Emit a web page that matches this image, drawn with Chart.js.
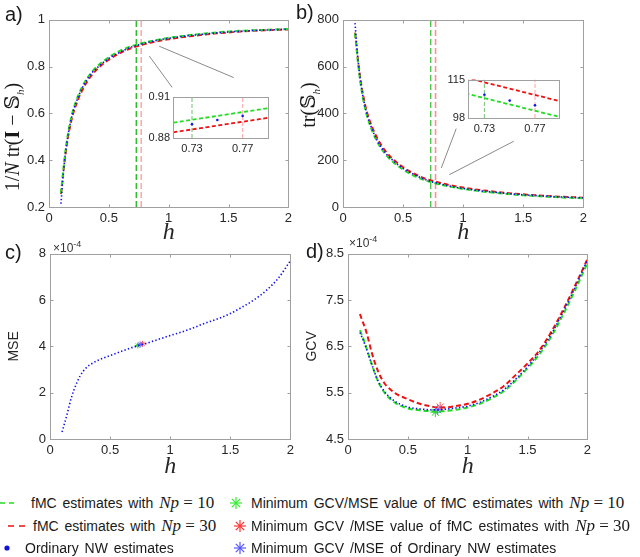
<!DOCTYPE html>
<html>
<head>
<meta charset="utf-8">
<script src="https://cdn.jsdelivr.net/npm/chart.js@4.4.1/dist/chart.umd.min.js"></script>
<style>
  body { margin: 0; background: #fff; width: 640px; height: 557px; overflow: hidden; position: relative; font-family: 'Liberation Sans', Arial, sans-serif; color: #1a1a1a; }
  canvas { position: absolute; }
  .lbl { position: absolute; font-size: 20px; line-height: 22px; }
  .ytitle { position: absolute; white-space: nowrap; font-family: 'Liberation Serif', 'DejaVu Serif', serif; font-size: 20px; transform: translate(-50%, -50%) rotate(-90deg); }
  .ytitle sub { font-size: 11px; }
  .exp { position: absolute; font-size: 12px; line-height: 14px; color: #333; }
  .exp sup { font-size: 9px; }
  .leg { position: absolute; font-size: 14px; line-height: 18px; white-space: nowrap; word-spacing: 2px; }
  .leg svg { position: absolute; }
  .m { font-family: 'Liberation Serif', serif; font-size: 17px; word-spacing: 0; margin-left: 6px; }
</style>
</head>
<body>
<canvas id="chart-a" width="295" height="239" style="left:1px;top:8px;width:295px;height:239px"></canvas>
<canvas id="chart-b" width="296" height="239" style="left:295px;top:8px;width:296px;height:239px"></canvas>
<canvas id="chart-c" width="296" height="239" style="left:2px;top:242px;width:296px;height:239px"></canvas>
<canvas id="chart-d" width="295" height="239" style="left:300px;top:242px;width:295px;height:239px"></canvas>
<canvas id="inset-a" width="129" height="81" style="left:143px;top:87px;width:129px;height:81px"></canvas>
<canvas id="inset-b" width="125" height="78" style="left:438px;top:70px;width:125px;height:78px"></canvas>

<div class="lbl" style="left:5px;top:3px">a)</div>
<div class="lbl" style="left:296px;top:1px">b)</div>
<div class="lbl" style="left:5px;top:241px">c)</div>
<div class="lbl" style="left:306px;top:240px">d)</div>

<div class="ytitle" style="left:13px;top:137px">1/<i>N</i> tr(<b>I</b> − 𝕊<sub><i>h</i></sub>)</div>
<div class="ytitle" style="left:309px;top:105px">tr(𝕊<sub><i>h</i></sub>)</div>

<div class="exp" style="left:53px;top:237px">×10<sup>-4</sup></div>
<div class="exp" style="left:349px;top:232px">×10<sup>-4</sup></div>

<div class="leg" style="left:0;top:494px;width:230px;height:18px">
  <svg width="14" height="18" style="left:0;top:0"><line x1="0" y1="9" x2="14" y2="9" stroke="#22dd22" stroke-width="1.6" stroke-dasharray="5 4"/></svg>
  <span style="position:absolute;left:31px">fMC estimates with<span class="m"><i>Np</i> = 10</span></span>
</div>
<div class="leg" style="left:0;top:517px;width:230px;height:18px">
  <svg width="18" height="18" style="left:8px;top:0"><line x1="0" y1="9" x2="18" y2="9" stroke="#ee1111" stroke-width="1.6" stroke-dasharray="6 5"/></svg>
  <span style="position:absolute;left:33px">fMC estimates with<span class="m"><i>Np</i> = 30</span></span>
</div>
<div class="leg" style="left:0;top:539px;width:230px;height:18px">
  <svg width="12" height="18" style="left:1px;top:0"><circle cx="6" cy="9" r="2.6" fill="#1111dd"/></svg>
  <span style="position:absolute;left:25px">Ordinary NW estimates</span>
</div>
<div class="leg" style="left:229px;top:494px;width:411px;height:18px">
  <svg width="14" height="18" style="left:0;top:0"><g stroke="#33ee33" stroke-width="1.2"><line x1="7" y1="3" x2="7" y2="15"/><line x1="1" y1="9" x2="13" y2="9"/><line x1="2.8" y1="4.8" x2="11.2" y2="13.2"/><line x1="2.8" y1="13.2" x2="11.2" y2="4.8"/></g></svg>
  <span style="position:absolute;left:22px">Minimum GCV/MSE value of fMC estimates with<span class="m"><i>Np</i> = 10</span></span>
</div>
<div class="leg" style="left:229px;top:517px;width:411px;height:18px">
  <svg width="14" height="18" style="left:4px;top:0"><g stroke="#ff3333" stroke-width="1.2"><line x1="7" y1="3" x2="7" y2="15"/><line x1="1" y1="9" x2="13" y2="9"/><line x1="2.8" y1="4.8" x2="11.2" y2="13.2"/><line x1="2.8" y1="13.2" x2="11.2" y2="4.8"/></g></svg>
  <span style="position:absolute;left:22px">Minimum GCV /MSE value of fMC estimates with<span class="m"><i>Np</i> = 30</span></span>
</div>
<div class="leg" style="left:229px;top:539px;width:411px;height:18px">
  <svg width="14" height="18" style="left:4px;top:0"><g stroke="#5555ff" stroke-width="1.2"><line x1="7" y1="3" x2="7" y2="15"/><line x1="1" y1="9" x2="13" y2="9"/><line x1="2.8" y1="4.8" x2="11.2" y2="13.2"/><line x1="2.8" y1="13.2" x2="11.2" y2="4.8"/></g></svg>
  <span style="position:absolute;left:22px">Minimum GCV /MSE of Ordinary NW estimates</span>
</div>

<script>
// bandwidth grid
const H = [0.1, 0.12, 0.14, 0.16, 0.18, 0.2, 0.25, 0.3, 0.35, 0.4, 0.5, 0.6, 0.7, 0.75, 0.8, 0.9, 1.0, 1.1, 1.2, 1.3, 1.4, 1.5, 1.6, 1.7, 1.8, 1.9, 2.0];

// a) 1/N tr(I - S_h)
const A_NP10 = [0.258, 0.36, 0.45, 0.518, 0.57, 0.612, 0.684, 0.735, 0.772, 0.80, 0.84, 0.869, 0.889, 0.896, 0.903, 0.914, 0.923, 0.93, 0.936, 0.941, 0.946, 0.95, 0.953, 0.955, 0.957, 0.959, 0.961];
const A_NP30 = [0.255, 0.35, 0.435, 0.502, 0.554, 0.596, 0.668, 0.72, 0.759, 0.788, 0.83, 0.86, 0.882, 0.889, 0.896, 0.908, 0.917, 0.925, 0.931, 0.937, 0.942, 0.946, 0.95, 0.953, 0.955, 0.957, 0.959];
const A_NW = [0.214, 0.345, 0.44, 0.51, 0.563, 0.605, 0.678, 0.73, 0.768, 0.794, 0.835, 0.863, 0.886, 0.893, 0.90, 0.912, 0.921, 0.928, 0.934, 0.939, 0.944, 0.948, 0.951, 0.954, 0.956, 0.958, 0.96];

// b) tr(S_h)
const B_NP10 = [742, 640, 550, 482, 430, 388, 316, 265, 228, 200, 160, 131, 111, 104, 97, 86, 77, 70, 64, 59, 54, 50, 47, 44, 41, 39, 37];
const B_NP30 = [745, 650, 565, 498, 446, 404, 332, 280, 241, 212, 170, 140, 118, 111, 104, 92, 83, 75, 69, 63, 58, 54, 50, 47, 44, 42, 40];
const B_NW = [786, 655, 560, 490, 437, 395, 322, 270, 232, 206, 165, 137, 114, 106, 100, 88, 79, 72, 66, 61, 56, 52, 49, 46, 43, 41, 39];

// c) MSE (x 1e-4)
const MSE_NW = [0.3, 0.66, 1.02, 1.45, 1.82, 2.13, 2.72, 3.07, 3.26, 3.4, 3.6, 3.8, 3.98, 4.06, 4.13, 4.3, 4.47, 4.63, 4.82, 5.02, 5.2, 5.42, 5.7, 6.02, 6.42, 6.95, 7.7];

// d) GCV (x 1e-4)
const G_NP10 = [6.85, 6.72, 6.58, 6.42, 6.26, 6.1, 5.75, 5.52, 5.37, 5.27, 5.16, 5.12, 5.1, 5.09, 5.1, 5.13, 5.18, 5.26, 5.38, 5.53, 5.76, 6.03, 6.33, 6.72, 7.2, 7.73, 8.3];
const G_NP30 = [7.2, 7.05, 6.92, 6.75, 6.55, 6.35, 5.97, 5.72, 5.58, 5.48, 5.36, 5.26, 5.2, 5.18, 5.18, 5.21, 5.26, 5.35, 5.48, 5.64, 5.88, 6.13, 6.42, 6.82, 7.3, 7.83, 8.38];
const G_NW = [6.8, 6.68, 6.55, 6.4, 6.25, 6.1, 5.76, 5.54, 5.4, 5.3, 5.19, 5.15, 5.13, 5.13, 5.14, 5.17, 5.21, 5.29, 5.41, 5.56, 5.79, 6.06, 6.38, 6.77, 7.26, 7.79, 8.37];

// minimum GCV/MSE bandwidths: [Np=10, Np=30, NW]
const MIN_H = [0.73, 0.77, 0.75];
const MIN_MSE = [4.04, 4.11, 4.08];
const MIN_GCV = [5.08, 5.19, 5.13];

// zoom insets
const INSET_H = [0.73, 0.75, 0.77];
const INSET_A_NW = [0.890, 0.893, 0.896];
const INSET_B_NW = [108.3, 105.7, 103.6];
const INSET_X_TICKS = [0.73, 0.77];
const INSET_A_X = [0.715, 0.79];
const INSET_A_Y = [0.88, 0.91];
const INSET_B_X = [0.717, 0.789];
const INSET_B_Y = [98, 115];

// connector lines to insets: [x1, y1, x2, y2] in data units
const CONN_A = [[0.838, 0.845, 1.029, 0.711], [0.921, 0.887, 1.544, 0.753]];
const CONN_B = [[0.818, 167, 0.942, 335], [0.884, 138, 1.421, 281]];

// ticks
const X_TICKS = [0, 0.5, 1, 1.5, 2];
const A_TICKS = [0.2, 0.4, 0.6, 0.8, 1];
const B_TICKS = [0, 200, 400, 600, 800];
const C_TICKS = [0, 2, 4, 6, 8];
const D_TICKS = [4.5, 5.5, 6.5, 7.5, 8.5];

const C = {
  np10: '#22dd22',
  np30: '#ee1111',
  nw: '#1111ee',
  vGreen: '#33bb33',
  vRed: '#ff8f8f',
  conn: '#8a8a8a',
  box: '#a0a0a0',
  text: '#262626',
};
const SANS = "'Liberation Sans', Arial, sans-serif";
const SERIF = "'Liberation Serif', 'Times New Roman', serif";
const NO_GRID = { display: false, drawTicks: false };

function pts(xs, ys) {
  return xs.map((x, i) => ({ x, y: ys[i] }));
}

const axisBox = {
  id: 'axisBox',
  beforeDatasetsDraw(chart, args, opts) {
    if (!opts.fill) return;
    const { ctx, chartArea: a } = chart;
    ctx.save();
    ctx.fillStyle = '#fff';
    ctx.fillRect(a.left, a.top, a.right - a.left, a.bottom - a.top);
    ctx.restore();
  },
  afterDraw(chart, args, opts) {
    const { ctx, chartArea: a, scales } = chart;
    const l = Math.round(a.left) + 0.5, t = Math.round(a.top) + 0.5;
    const r = Math.round(a.right) + 0.5, b = Math.round(a.bottom) + 0.5;
    ctx.save();
    ctx.strokeStyle = C.box;
    ctx.lineWidth = 1;
    ctx.strokeRect(l, t, r - l, b - t);
    const len = opts.tickLen || 0;
    if (len) {
      ctx.beginPath();
      scales.x.ticks.forEach((tk) => {
        const px = Math.round(scales.x.getPixelForValue(tk.value)) + 0.5;
        ctx.moveTo(px, b); ctx.lineTo(px, b - len);
        ctx.moveTo(px, t); ctx.lineTo(px, t + len);
      });
      scales.y.ticks.forEach((tk) => {
        const py = Math.round(scales.y.getPixelForValue(tk.value)) + 0.5;
        ctx.moveTo(l, py); ctx.lineTo(l + len, py);
        ctx.moveTo(r, py); ctx.lineTo(r - len, py);
      });
      ctx.stroke();
    }
    ctx.restore();
  },
};

function dashed(data, color, order) {
  return {
    data, borderColor: color, borderWidth: 2, borderDash: [5, 3],
    pointRadius: 0, cubicInterpolationMode: 'monotone', order,
  };
}

function dotted(data) {
  return {
    data, borderColor: C.nw, borderWidth: 1.6, borderDash: [1.4, 2.2],
    pointRadius: 0, cubicInterpolationMode: 'monotone', order: 0,
  };
}

function vline(x, yRange, color, width, dash) {
  return {
    data: [{ x, y: yRange[0] }, { x, y: yRange[1] }],
    borderColor: color, borderWidth: width, borderDash: dash, pointRadius: 0, order: 4,
  };
}

function connectors(list) {
  return list.map((c) => ({
    data: [{ x: c[0], y: c[1] }, { x: c[2], y: c[3] }],
    borderColor: C.conn, borderWidth: 1, pointRadius: 0, order: 5,
  }));
}

function stars(ys, radius) {
  const cols = [C.np10, '#ff5555', '#6666ff'];
  return MIN_H.map((h, i) => ({
    data: [{ x: h, y: ys[i] }],
    showLine: false, pointStyle: 'star', pointRadius: radius,
    borderColor: cols[i], borderWidth: 1, order: 3 - i,
  })).reverse();
}

function drawPanel(id, cfg) {
  const ctx = document.getElementById(id).getContext('2d');
  return new Chart(ctx, {
    type: 'line',
    data: { datasets: cfg.datasets },
    plugins: [axisBox],
    options: {
      responsive: false,
      animation: false,
      layout: { padding: { top: 8, right: 6, left: 0, bottom: 0 } },
      plugins: {
        legend: { display: false },
        tooltip: { enabled: false },
        axisBox: { tickLen: 3 },
      },
      scales: {
        x: {
          type: 'linear', min: 0, max: 2,
          grid: NO_GRID, border: { display: false },
          afterBuildTicks: (s) => { s.ticks = X_TICKS.map((v) => ({ value: v })); },
          afterFit: (s) => { s.height = cfg.xH; },
          ticks: { padding: 4, color: C.text, font: { family: SANS, size: 13 }, maxRotation: 0, autoSkip: false, callback: (v) => String(v) },
          title: { display: true, text: 'h', color: C.text, padding: 0, font: { family: SERIF, size: 24, style: 'italic' } },
        },
        y: {
          type: 'linear', min: cfg.yMin, max: cfg.yMax,
          grid: NO_GRID, border: { display: false },
          afterBuildTicks: (s) => { s.ticks = cfg.yTicks.map((v) => ({ value: v })); },
          afterFit: (s) => { s.width = 48; },
          ticks: { padding: 4, color: C.text, font: { family: SANS, size: 13 }, autoSkip: false, callback: (v) => String(v) },
          title: {
            display: !!cfg.yTitle, text: cfg.yTitle || '', color: C.text,
            padding: { top: 4, bottom: 0 }, font: { family: SANS, size: 14 },
          },
        },
      },
    },
  });
}

function drawInset(id, cfg) {
  const ctx = document.getElementById(id).getContext('2d');
  return new Chart(ctx, {
    type: 'line',
    data: { datasets: cfg.datasets },
    plugins: [axisBox],
    options: {
      responsive: false,
      animation: false,
      layout: { padding: { top: 6, right: 4, left: 0, bottom: 0 } },
      plugins: { legend: { display: false }, tooltip: { enabled: false }, axisBox: { fill: true } },
      scales: {
        x: {
          type: 'linear', min: cfg.x[0], max: cfg.x[1],
          grid: NO_GRID, border: { display: false },
          afterBuildTicks: (s) => { s.ticks = INSET_X_TICKS.map((v) => ({ value: v })); },
          afterFit: (s) => { s.height = 30; },
          ticks: { padding: 4, color: C.text, font: { family: SANS, size: 11 }, maxRotation: 0, autoSkip: false, callback: (v) => String(v) },
        },
        y: {
          type: 'linear', min: cfg.y[0], max: cfg.y[1],
          grid: NO_GRID, border: { display: false },
          afterBuildTicks: (s) => { s.ticks = cfg.y.map((v) => ({ value: v })); },
          afterFit: (s) => { s.width = 30; },
          ticks: { padding: 3, color: C.text, font: { family: SANS, size: 11 }, autoSkip: false, callback: (v) => String(v) },
        },
      },
    },
  });
}

function insetSets(np10, np30, nwPts, yRange) {
  const line = (data, color) => ({
    data, borderColor: color, borderWidth: 1.8, borderDash: [4, 2.5],
    pointRadius: 0, tension: 0, clip: 0, order: 1,
  });
  return [
    { data: nwPts, showLine: false, pointRadius: 1.3, pointBorderWidth: 0, backgroundColor: C.nw, order: 0, clip: 0 },
    line(np10, C.np10),
    line(np30, C.np30),
    { ...vline(MIN_H[0], yRange, '#88cc88', 1.2, [4, 2]), clip: 0 },
    { ...vline(MIN_H[1], yRange, '#ffb0b0', 1.2, [4, 2]), clip: 0 },
  ];
}

document.addEventListener('DOMContentLoaded', () => {
  drawPanel('chart-a', {
    yMin: 0.2, yMax: 1, yTicks: A_TICKS, xH: 40,
    datasets: [
      dotted(pts(H, A_NW)),
      dashed(pts(H, A_NP10), C.np10, 1),
      dashed(pts(H, A_NP30), C.np30, 2),
      vline(MIN_H[0], [0.2, 1], C.vGreen, 1.6, [6, 3]),
      vline(MIN_H[1], [0.2, 1], C.vRed, 1.2, [6, 3]),
      ...connectors(CONN_A),
    ],
  });

  drawPanel('chart-b', {
    yMin: 0, yMax: 800, yTicks: B_TICKS, xH: 40,
    datasets: [
      dotted(pts(H, B_NW)),
      dashed(pts(H, B_NP10), C.np10, 1),
      dashed(pts(H, B_NP30), C.np30, 2),
      vline(MIN_H[0], [0, 800], C.vGreen, 1.2, [6, 3]),
      vline(MIN_H[1], [0, 800], C.vRed, 1.6, [6, 3]),
      ...connectors(CONN_B),
    ],
  });

  drawPanel('chart-c', {
    yMin: 0, yMax: 8, yTicks: C_TICKS, xH: 42, yTitle: 'MSE',
    datasets: [
      dotted(pts(H, MSE_NW)),
      ...stars(MIN_MSE, 3),
    ],
  });

  drawPanel('chart-d', {
    yMin: 4.5, yMax: 8.5, yTicks: D_TICKS, xH: 42, yTitle: 'GCV',
    datasets: [
      dotted(pts(H, G_NW)),
      dashed(pts(H, G_NP10), C.np10, 1),
      dashed(pts(H, G_NP30), C.np30, 2),
      ...stars(MIN_GCV, 5),
    ],
  });

  drawInset('inset-a', {
    x: INSET_A_X, y: INSET_A_Y,
    datasets: insetSets(pts(H, A_NP10), pts(H, A_NP30), pts(INSET_H, INSET_A_NW), INSET_A_Y),
  });

  drawInset('inset-b', {
    x: INSET_B_X, y: INSET_B_Y,
    datasets: insetSets(pts(H, B_NP10), pts(H, B_NP30), pts(INSET_H, INSET_B_NW), INSET_B_Y),
  });
});
</script>
</body>
</html>
